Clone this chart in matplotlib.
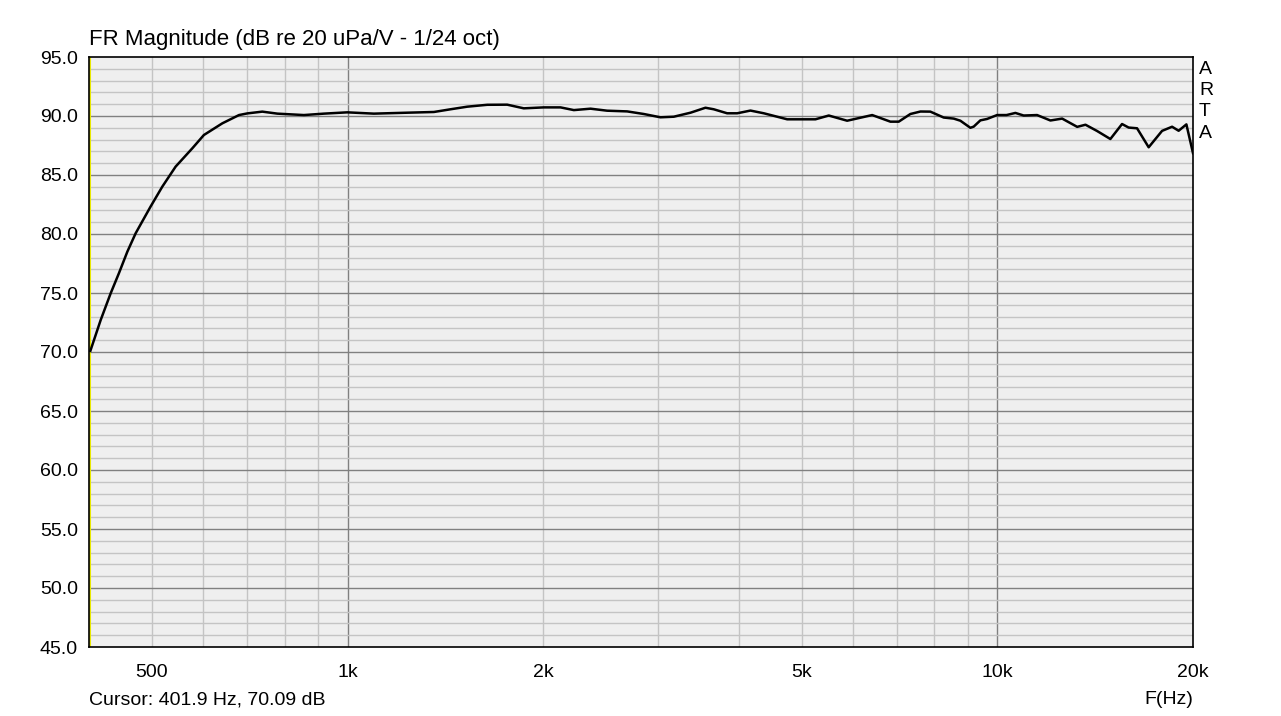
import matplotlib
matplotlib.use('Agg')
import matplotlib.pyplot as plt
import matplotlib.ticker as ticker
import numpy as np

plt.rcParams['font.family'] = ['Liberation Sans', 'DejaVu Sans']

# frequency response (Hz, dB)
freq = [401.9, 416.9, 431.9, 444.7, 458.2, 471.9, 497.5, 518.6, 543.7, 576.8,
        601.0, 641.6, 680.6, 701.0, 739.2, 779.8, 856.6, 919.5, 999.0, 1097.6,
        1235.6, 1357.7, 1440.5, 1528.2, 1640.3, 1760.6, 1867.0, 2004.5, 2126.6, 2229.6,
        2365.0, 2508.0, 2693.0, 2856.0, 3030.0, 3177.0, 3371.0, 3554.0, 3660.0, 3838.0,
        3977.0, 4169.0, 4371.0, 4748.0, 5248.0, 5502.0, 5872.0, 6417.0, 6845.0, 7050.0,
        7347.0, 7614.0, 7886.0, 8267.0, 8566.0, 8771.0, 9087.0, 9195.0, 9415.0, 9642.0,
        9989.0, 10330.0, 10659.0, 10977.0, 11510.0, 12067.0, 12580.0, 13268.0, 13664.0, 14236.0,
        14923.0, 15554.0, 15922.0, 16403.0, 17093.0, 17924.0, 18571.0, 19008.0, 19537.0, 20000.0]
mag = [70.09, 72.71, 74.97, 76.67, 78.50, 80.06, 82.32, 84.01, 85.71, 87.26,
       88.39, 89.38, 90.08, 90.22, 90.37, 90.20, 90.08, 90.20, 90.31, 90.20,
       90.28, 90.34, 90.57, 90.79, 90.95, 90.96, 90.65, 90.73, 90.73, 90.50,
       90.62, 90.45, 90.39, 90.17, 89.89, 89.94, 90.28, 90.70, 90.57, 90.23,
       90.23, 90.46, 90.23, 89.72, 89.72, 90.04, 89.60, 90.08, 89.52, 89.52,
       90.17, 90.38, 90.37, 89.87, 89.78, 89.60, 89.00, 89.10, 89.63, 89.75,
       90.08, 90.08, 90.26, 90.04, 90.08, 89.62, 89.78, 89.08, 89.26, 88.73,
       88.05, 89.32, 89.02, 88.96, 87.35, 88.74, 89.09, 88.75, 89.29, 86.85]

x_ticks = [500, 1000, 2000, 5000, 10000, 20000]
x_labels = ['500', '1k', '2k', '5k', '10k', '20k']
x_minor = [500, 600, 700, 800, 900, 2000, 3000, 4000, 5000, 6000, 7000, 8000, 9000]
x_major = [1000, 10000]

fig = plt.figure(figsize=(12.81, 7.16), dpi=100)
ax = fig.add_axes([89/1281, 69/716, 1104/1281, 590/716])
ax.set_facecolor('#efefef')

ax.set_xscale('log')
ax.set_xlim(400, 20000)
ax.set_ylim(45, 95)

# grid drawn by hand so minor/major shades match ARTA
for f in x_minor:
    ax.axvline(f, color='#c4c4c4', lw=1, zorder=1)
for f in x_major:
    ax.axvline(f, color='#808080', lw=1, zorder=1)
for y in range(46, 95):
    ax.axhline(y, color='#c4c4c4' if y % 5 else '#808080', lw=1, zorder=1)

ax.axvline(401.9, color='#e8e800', lw=1.5, zorder=2)
ax.plot(freq, mag, color='black', lw=1.8, zorder=3)

ax.xaxis.set_major_locator(ticker.FixedLocator(x_ticks))
ax.xaxis.set_major_formatter(ticker.FixedFormatter(x_labels))
ax.xaxis.set_minor_locator(ticker.NullLocator())
ax.set_yticks(np.arange(45, 96, 5))
ax.yaxis.set_major_formatter(ticker.FormatStrFormatter('%.1f'))
ax.tick_params(length=0, labelsize=14, pad=12)
ax.tick_params(axis='y', pad=8)
for s in ax.spines.values():
    s.set_color('black')
    s.set_linewidth(1.2)

fig.text(89/1281, 1 - 40/716, 'FR Magnitude (dB re 20 uPa/V - 1/24 oct)',
         fontsize=16, va='center', ha='left')
fig.text(89/1281, 1 - 700/716, 'Cursor: 401.9 Hz, 70.09 dB', fontsize=14, va='center', ha='left')
fig.text(1193/1281, 1 - 700/716, 'F(Hz)', fontsize=14, va='center', ha='right')
for i, ch in enumerate('ARTA'):
    fig.text(1199/1281, 1 - (69 + i * 21.5)/716, ch, fontsize=14, va='center', ha='left')

fig.savefig('out.png', dpi=100)
